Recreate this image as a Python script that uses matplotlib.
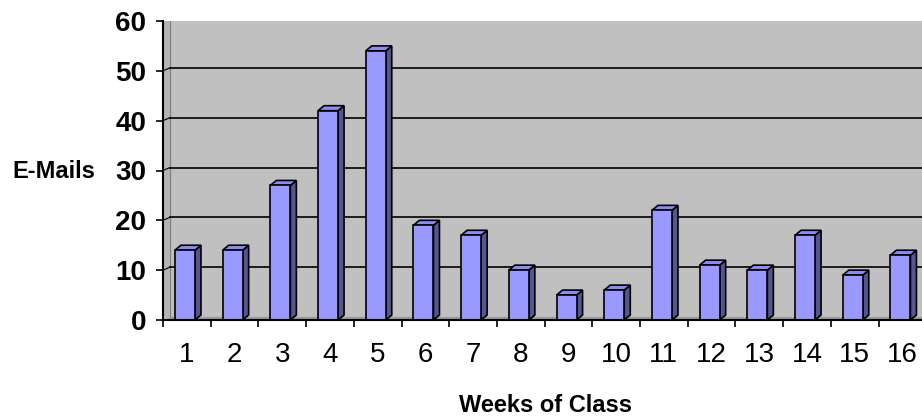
import matplotlib
matplotlib.use("Agg")
import matplotlib.pyplot as plt
from matplotlib.patches import Polygon, Rectangle
from matplotlib.transforms import ScaledTranslation

weeks = list(range(1, 17))
emails = [14, 14, 27, 42, 54, 19, 17, 10, 5, 6, 22, 11, 10, 17, 9, 13]
yticks = [0, 10, 20, 30, 40, 50, 60]

plt.rcParams['font.family'] = ['Liberation Sans', 'DejaVu Sans']

fig = plt.figure(figsize=(9.22, 4.18), dpi=100)
# axis origin at px (163, 320); one week is ~47.7 px wide, 10 mails ~ 49.8 px
ax = fig.add_axes([163 / 922, 98 / 418, 16 * 47.7 / 922, 299 / 418])
ax.set_xlim(0.5, 16.5)
ax.set_ylim(0, 60)
ax.set_facecolor('white')

# 3d depth of the columns / walls in pixels
dpx, dpy = 6, 5
ux = 16 / (16 * 47.7)
uy = 60 / 299
dx, dy = dpx * ux, dpy * uy
shift = ScaledTranslation(7 / 100, 3 / 100, fig.dpi_scale_trans)

# back wall + floor + side wall
wall = Rectangle((0, 0), 1, 1, transform=ax.transAxes + shift,
                 facecolor='#c0c0c0', edgecolor='#808080', lw=0.8, zorder=0)
ax.add_patch(wall)
floor = Polygon([(0.5, 0), (16.6, 0), (16.6 + 7 * ux, 3 * uy), (0.5 + 7 * ux, 3 * uy)],
                closed=True, facecolor='#9a9a9a', edgecolor='none', zorder=0.5)
ax.add_patch(floor)
side = Polygon([(0.5, 0), (0.5 + 7 * ux, 3 * uy), (0.5 + 7 * ux, 60 + 3 * uy), (0.5, 60)],
               closed=True, facecolor='#b4b4b4', edgecolor='none', zorder=0.5)
ax.add_patch(side)
ax.plot([0.5 + 7 * ux] * 2, [3 * uy, 60 + 3 * uy], color='#808080', lw=0.8, zorder=0.6)

# gridlines on the back wall with the little step on the side wall
for v in yticks[1:]:
    ax.plot([0.5 + 7 * ux, 16.6], [v + 3 * uy, v + 3 * uy], color='black', lw=1.2, zorder=1)
    ax.plot([0.5, 0.5 + 7 * ux], [v, v + 3 * uy], color='black', lw=0.8, zorder=1)

w = 0.42
front = '#9999ff'
for x, v in zip(weeks, emails):
    x0 = x - w / 2 - 0.04
    x1 = x0 + w
    ax.add_patch(Polygon([(x1, 0), (x1 + dx, dy), (x1 + dx, v + dy), (x1, v)],
                         closed=True, facecolor='#55558f', edgecolor='black', lw=1.2, zorder=3))
    ax.add_patch(Polygon([(x0, v), (x1, v), (x1 + dx, v + dy), (x0 + dx, v + dy)],
                         closed=True, facecolor='#8c8cf0', edgecolor='black', lw=1.2, zorder=3))
ax.bar([x - 0.04 for x in weeks], emails, width=w, color=front, edgecolor='black',
       linewidth=1.2, zorder=4)

for s in ['top', 'right']:
    ax.spines[s].set_visible(False)
ax.spines['left'].set_linewidth(1.5)
ax.spines['bottom'].set_linewidth(1.5)
ax.spines['left'].set_zorder(5)
ax.spines['bottom'].set_zorder(5)

ax.set_yticks(yticks)
ax.set_yticklabels([str(t) for t in yticks], fontsize=20, fontweight='bold')
ax.tick_params(axis='y', length=5, width=1.2, pad=7)

ax.set_xticks(weeks)
ax.set_xticklabels([str(x) for x in weeks], fontsize=20)
ax.tick_params(axis='x', length=0, pad=16)
ax.set_xticks([k + 0.5 for k in range(0, 17)], minor=True)
ax.tick_params(axis='x', which='minor', length=5, width=1.2)

fig.text(12 / 922, 1 - 172 / 418, 'E-Mails', fontsize=17, fontweight='bold',
         ha='left', va='center')
fig.text(545 / 922, 1 - 406 / 418, 'Weeks of Class', fontsize=17, fontweight='bold',
         ha='center', va='center')

fig.savefig('out.png', dpi=100)
